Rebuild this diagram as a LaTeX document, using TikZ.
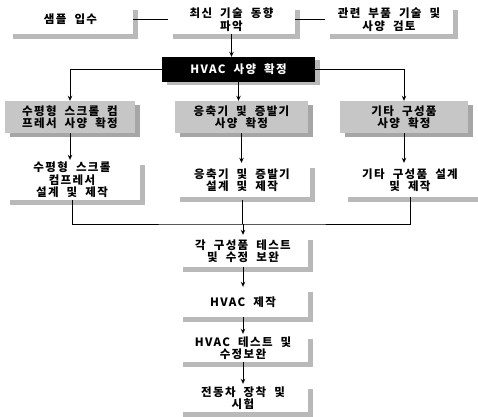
\documentclass[tikz,border=0pt]{standalone}
\usepackage{fontspec}
\newfontfamily\kr[LetterSpace=12,WordSpace=2]{Noto Sans CJK KR}
\usetikzlibrary{arrows.meta,shadows}
\begin{document}
\begin{tikzpicture}[x=1pt,y=-1pt,
  font=\kr\bfseries\fontsize{11.5}{12.5}\selectfont,
  line/.style={draw=black,line width=0.9pt},
  arr/.style={line,-{Stealth[length=5pt,width=4.5pt]}},
  wbox/.style={fill=white,inner sep=0pt,align=center,
    drop shadow={shadow xshift=5pt,shadow yshift=-5pt,fill=gray!55,opacity=1}},
  gbox/.style={fill=gray!45,inner sep=0pt,align=center,
    drop shadow={shadow xshift=5pt,shadow yshift=-4pt,fill=gray!70,opacity=1}},
  bbox/.style={fill=black,text=white,inner sep=0pt,align=center,
    drop shadow={shadow xshift=5pt,shadow yshift=-3pt,fill=gray!55,opacity=1}}
]
\useasboundingbox (0,0) rectangle (478,416);
% row 1
\node[wbox,minimum width=125pt,minimum height=29pt] (s1) at (70.5,19.5) {샘플 입수};
\node[wbox,minimum width=127pt,minimum height=29pt] (s2) at (231.5,19.5) {최신 기술 동향\\파악};
\node[wbox,minimum width=128pt,minimum height=29pt] (s3) at (389,19.5) {관련 부품 기술 및\\사양 검토};
% HVAC spec
\node[bbox,minimum width=153pt,minimum height=25pt] (h) at (238.5,69.5) {HVAC 사양 확정};
% row 3
\node[gbox,minimum width=130pt,minimum height=32pt] (g1) at (70,117) {수평형 스크롤 컴\\프레서 사양 확정};
\node[gbox,minimum width=133pt,minimum height=32pt] (g2) at (241.5,117) {응축기 및 증발기\\사양 확정};
\node[gbox,minimum width=128pt,minimum height=32pt] (g3) at (404,117) {기타 구성품\\사양 확정};
% row 4
\node[wbox,minimum width=135pt,minimum height=40pt] (d1) at (72,180) {수평형 스크롤\\컴프레서\\설계 및 제작};
\node[wbox,minimum width=135pt,minimum height=34pt] (d2) at (242,180) {응축기 및 증발기\\설계 및 제작};
\node[wbox,minimum width=135pt,minimum height=34pt] (d3) at (410,180) {기타 구성품 설계\\및 제작};
% column
\node[wbox,minimum width=130pt,minimum height=32pt] (t1) at (243,251) {각 구성품 테스트\\및 수정 보완};
\node[wbox,minimum width=130pt,minimum height=30pt] (t2) at (243,302) {HVAC 제작};
\node[wbox,minimum width=130pt,minimum height=28pt] (t3) at (243,348) {HVAC 테스트 및\\수정보완};
\node[wbox,minimum width=130pt,minimum height=28pt] (t4) at (243,398) {전동차 장착 및\\시험};
\coordinate (m) at (243,224);
% connectors
\draw[line] (s1.east) -- (s2.west);
\draw[line] (s2.east) -- (s3.west);
\draw[arr] (s2.south) -- (s2.south |- h.north);
\draw[arr] (h.west) -| (g1.north);
\draw[arr] (h.south) -- (h.south |- g2.north);
\draw[arr] (h.east) -| (g3.north);
\draw[arr] (g1.south) -- (g1.south |- d1.north);
\draw[arr] (g2.south) -- (g2.south |- d2.north);
\draw[arr] (g3.south) -- (g3.south |- d3.north);
\draw[line] (d1.south) |- (m) -| (d3.south);
\draw[line] (d2.south |- d1.south) -- (d2.south |- m);
\draw[arr] (m) -- (t1.north);
\draw[arr] (t1.south) -- (t2.north);
\draw[arr] (t2.south) -- (t3.north);
\draw[arr] (t3.south) -- (t4.north);
\end{tikzpicture}
\end{document}
